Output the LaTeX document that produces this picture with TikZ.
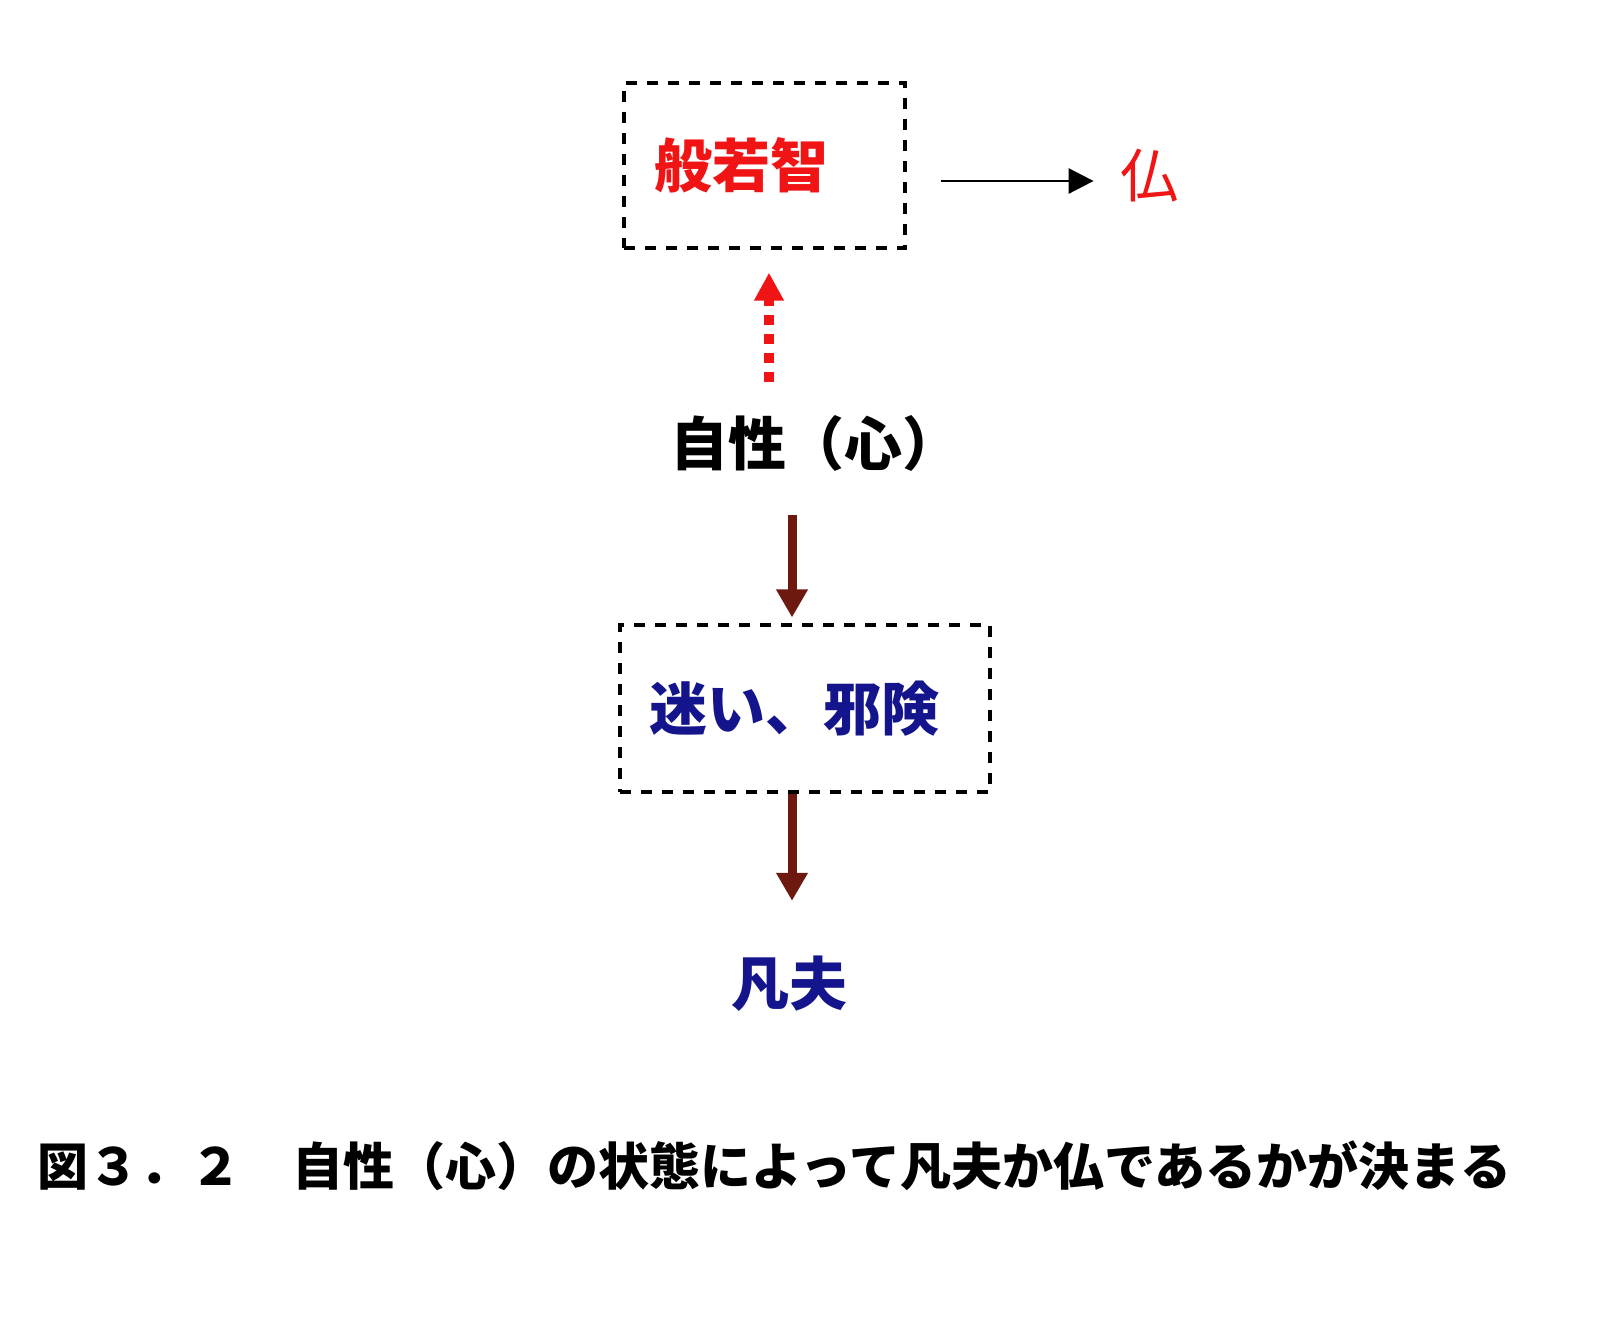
\documentclass[tikz,border=0pt]{standalone}
\usepackage{fontspec}
\newfontfamily\cjk{Noto Sans CJK JP}
\usepackage{xcolor}
\usepackage{tikz}
\usetikzlibrary{arrows.meta, positioning}
\definecolor{wisered}{RGB}{240,20,20}
\definecolor{mindnavy}{RGB}{20,20,140}
\definecolor{pathbrown}{RGB}{110,25,15}

\begin{document}
\begin{tikzpicture}[x=0.5pt, y=-0.5pt,
    lbl/.style={inner sep=0pt, font=\cjk\bfseries\fontsize{29pt}{32pt}\selectfont},
    dbox/.style={draw, dash pattern=on 5.5pt off 5pt, line width=1.6pt, align=left,
                 inner ysep=0pt, font=\cjk\bfseries\fontsize{29pt}{32pt}\selectfont},
    blackarr/.style={-{Triangle[length=12.5pt, width=12.5pt]}, line width=1.4pt},
    redarr/.style={-{Triangle[length=14pt, width=14pt]}, wisered, line width=5pt,
                   dash pattern=on 5pt off 4.5pt},
    brownarr/.style={-{Triangle[length=14pt, width=15pt]}, pathbrown, line width=4.5pt}]
  \useasboundingbox (0,0) rectangle (1615,1318);
  \node[dbox, text width=110.5pt, inner xsep=15pt, minimum height=82.5pt, text=wisered]
        (wisdom) at (764.5,165.5) {般若智};
  \node[lbl, font=\cjk\fontsize{29pt}{32pt}\selectfont, text=wisered] (buddha) at (1149,176) {仏};
  \node[lbl] (self) at (815,443) {自性（心）};
  \node[dbox, text width=156pt, inner xsep=14.5pt, minimum height=83.5pt, text=mindnavy]
        (delusion) at (805,708.5) {迷い、邪険};
  \node[lbl, text=mindnavy] (ordinary) at (789,984) {凡夫};
  \node[lbl, font=\cjk\bfseries\fontsize{25.5pt}{28pt}\selectfont, anchor=west]
        (caption) at (37,1166) {図３．２　自性（心）の状態によって凡夫か仏であるかが決まる};
  % wisdom leads to buddha
  \draw[blackarr, shorten <=17pt, shorten >=13pt]
        ([yshift=-2.5pt]buddha.west -| wisdom.east) -- ([yshift=-2.5pt]buddha.west);
  \draw[redarr, shorten <=16.5pt, shorten >=11.5pt]
        ([xshift=-23pt]self.north) -- ([xshift=-23pt]self.north |- wisdom.south);
  \draw[brownarr, shorten <=22pt, shorten >=3pt]
        ([xshift=-11.5pt]self.south) -- ([xshift=-11.5pt]self.south |- delusion.north);
  \draw[brownarr, shorten >=27.5pt]
        ([xshift=-6.5pt]delusion.south) -- ([xshift=-6.5pt]delusion.south |- ordinary.north);
\end{tikzpicture}
\end{document}
